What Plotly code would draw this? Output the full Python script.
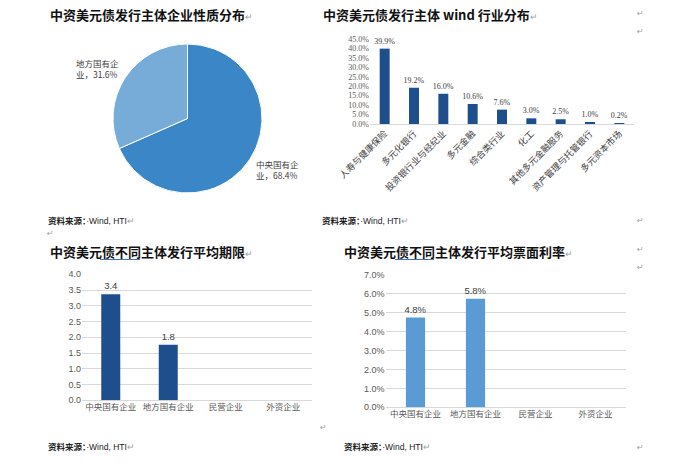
import plotly.graph_objects as go

W, H = 677, 466

# ---- data ----
pie_labels = ["中央国有企业", "地方国有企业"]
pie_values = [68.4, 31.6]

ind_categories = ["人寿与健康保险", "多元化银行", "投资银行业与经纪业", "多元金融", "综合类行业",
                  "化工", "其他多元金融服务", "资产管理与托管银行", "多元资本市场"]
ind_values = [39.9, 19.2, 16.0, 10.6, 7.6, 3.0, 2.5, 1.0, 0.2]

owner_categories = ["中央国有企业", "地方国有企业", "民营企业", "外资企业"]
term_values = [3.37, 1.76, None, None]
coupon_values = [4.75, 5.75, None, None]

titles = ["中资美元债发行主体企业性质分布", "中资美元债发行主体 wind 行业分布",
          "中资美元债不同主体发行平均期限", "中资美元债不同主体发行平均票面利率"]


def px(x):
    return x / W


def py(y):
    return 1 - y / H


CJK = "Noto Sans CJK SC"
fig = go.Figure()

# pie
fig.add_trace(go.Pie(
    labels=pie_labels, values=pie_values, sort=False, direction="clockwise", rotation=0,
    marker=dict(colors=["#3A86C6", "#78ACD8"], line=dict(color="white", width=1)),
    textinfo="none", hoverinfo="label+percent", showlegend=False,
    domain=dict(x=[px(113), px(262)], y=[py(193), py(44)]),
))

# industry bars
fig.add_trace(go.Bar(
    x=ind_categories, y=ind_values, marker_color="#1F4E8C", width=0.34,
    text=[f"{v:.1f}%" for v in ind_values], textposition="outside", constraintext="none",
    textfont=dict(family="Liberation Serif", size=8, color="#404040"),
    cliponaxis=False, xaxis="x", yaxis="y", showlegend=False,
))

# term bars
fig.add_trace(go.Bar(
    x=owner_categories, y=term_values, marker_color="#1F4E8C", width=0.33,
    text=[f"{v:.1f}" if v is not None else "" for v in term_values], textposition="outside",
    constraintext="none",
    textfont=dict(family="Liberation Sans", size=9.5, color="#404040"),
    cliponaxis=False, xaxis="x2", yaxis="y2", showlegend=False,
))

# coupon bars
fig.add_trace(go.Bar(
    x=owner_categories, y=coupon_values, marker_color="#5B9BD5", width=0.32,
    text=[f"{v:.1f}%" if v is not None else "" for v in coupon_values], textposition="outside",
    constraintext="none",
    textfont=dict(family="Liberation Sans", size=9.5, color="#404040"),
    cliponaxis=False, xaxis="x3", yaxis="y3", showlegend=False,
))

tickgrey = "#595959"
fig.update_layout(
    template="none",
    width=W, height=H, margin=dict(l=0, r=0, t=0, b=0, pad=0), autosize=False,
    paper_bgcolor="white", plot_bgcolor="white",
    xaxis=dict(domain=[px(370), px(634)], anchor="y", type="category", tickangle=-45, automargin=False,
               tickfont=dict(family=CJK, size=9, color="#404040"),
               showline=True, linecolor="#D9D9D9", linewidth=1, ticks="", showgrid=False, zeroline=False),
    yaxis=dict(domain=[py(124), py(39)], anchor="x", range=[0, 45], dtick=5, tickformat=".1f",
               ticksuffix="%", automargin=False,
               tickfont=dict(family="Liberation Serif", size=8, color=tickgrey),
               showgrid=False, zeroline=False, showline=False, ticks=""),
    xaxis2=dict(domain=[px(82), px(312)], anchor="y2", type="category", automargin=False,
                tickfont=dict(family=CJK, size=8.5, color=tickgrey),
                showline=False, ticks="", showgrid=False, zeroline=False),
    yaxis2=dict(domain=[py(400.3), py(274.3)], anchor="x2", range=[0, 4], dtick=0.5, tickformat=".1f",
                automargin=False,
                tickfont=dict(family="Liberation Sans", size=9, color=tickgrey),
                showgrid=True, gridcolor="#D9D9D9", gridwidth=1, zeroline=True, zerolinecolor="#D9D9D9",
                zerolinewidth=1, showline=False, ticks=""),
    xaxis3=dict(domain=[px(385.5), px(625.5)], anchor="y3", type="category", automargin=False,
                tickfont=dict(family=CJK, size=8.5, color=tickgrey),
                showline=False, ticks="", showgrid=False, zeroline=False),
    yaxis3=dict(domain=[py(407.3), py(275)], anchor="x3", range=[0, 7], dtick=1, tickformat=".1f",
                ticksuffix="%", automargin=False,
                tickfont=dict(family="Liberation Sans", size=9, color=tickgrey),
                showgrid=True, gridcolor="#D9D9D9", gridwidth=1, zeroline=True, zerolinecolor="#D9D9D9",
                zerolinewidth=1, showline=False, ticks=""),
)

ann = []
# titles
for t, (x, y) in zip(titles, [(48, 14), (321, 14), (48, 251), (342, 251)]):
    ann.append(dict(x=px(x), y=py(y), xref="paper", yref="paper", xanchor="left", yanchor="middle",
                    text=f"<b>{t}</b><span style='font-size:9px;color:#A0A0A0'>↵</span>",
                    showarrow=False, font=dict(family=CJK, size=13, color="#111111")))
# sources
for (x, y) in [(46, 220), (320, 220), (46, 446), (342, 446)]:
    ann.append(dict(x=px(x), y=py(y), xref="paper", yref="paper", xanchor="left", yanchor="middle",
                    text="<b>资料来源：</b><span style='font-family:Liberation Sans'>·Wind, HTI</span>"
                         "<span style='color:#A0A0A0'>↵</span>",
                    showarrow=False, font=dict(family=CJK, size=8.5, color="#222222")))
# pie labels
for lab, val, (x, y) in zip(pie_labels, pie_values, [(277, 169), (97, 68)]):
    ann.append(dict(x=px(x), y=py(y), xref="paper", yref="paper", xanchor="center", yanchor="middle",
                    text=f"{lab[:-1]}<br>{lab[-1]}，{val:.1f}%", showarrow=False, align="left",
                    font=dict(family=CJK, size=8.5, color="#404040")))
# stray paragraph marks
for (x, y) in [(640, 13), (640, 31), (640, 221), (640, 249), (640, 267), (640, 447), (50, 233), (323, 427)]:
    ann.append(dict(x=px(x), y=py(y), xref="paper", yref="paper", xanchor="center", yanchor="middle",
                    text="↵", showarrow=False, font=dict(family="DejaVu Sans", size=8, color="#A0A0A0")))
fig.update_layout(annotations=ann)

# spell-check underline under titles
fig.update_layout(shapes=[
    dict(type="line", xref="paper", yref="paper", x0=px(100), x1=px(140), y0=py(259.5), y1=py(259.5),
         line=dict(color="#4472C4", width=1)),
    dict(type="line", xref="paper", yref="paper", x0=px(395), x1=px(434), y0=py(259.5), y1=py(259.5),
         line=dict(color="#4472C4", width=1)),
])

fig.write_html("out.html", config={"displayModeBar": False})
with open("out.html", encoding="utf-8") as f:
    html = f.read()
html = html.replace("<head>", "<head><style>html,body{margin:0;padding:0;overflow:hidden;}</style>", 1)
with open("out.html", "w", encoding="utf-8") as f:
    f.write(html)
